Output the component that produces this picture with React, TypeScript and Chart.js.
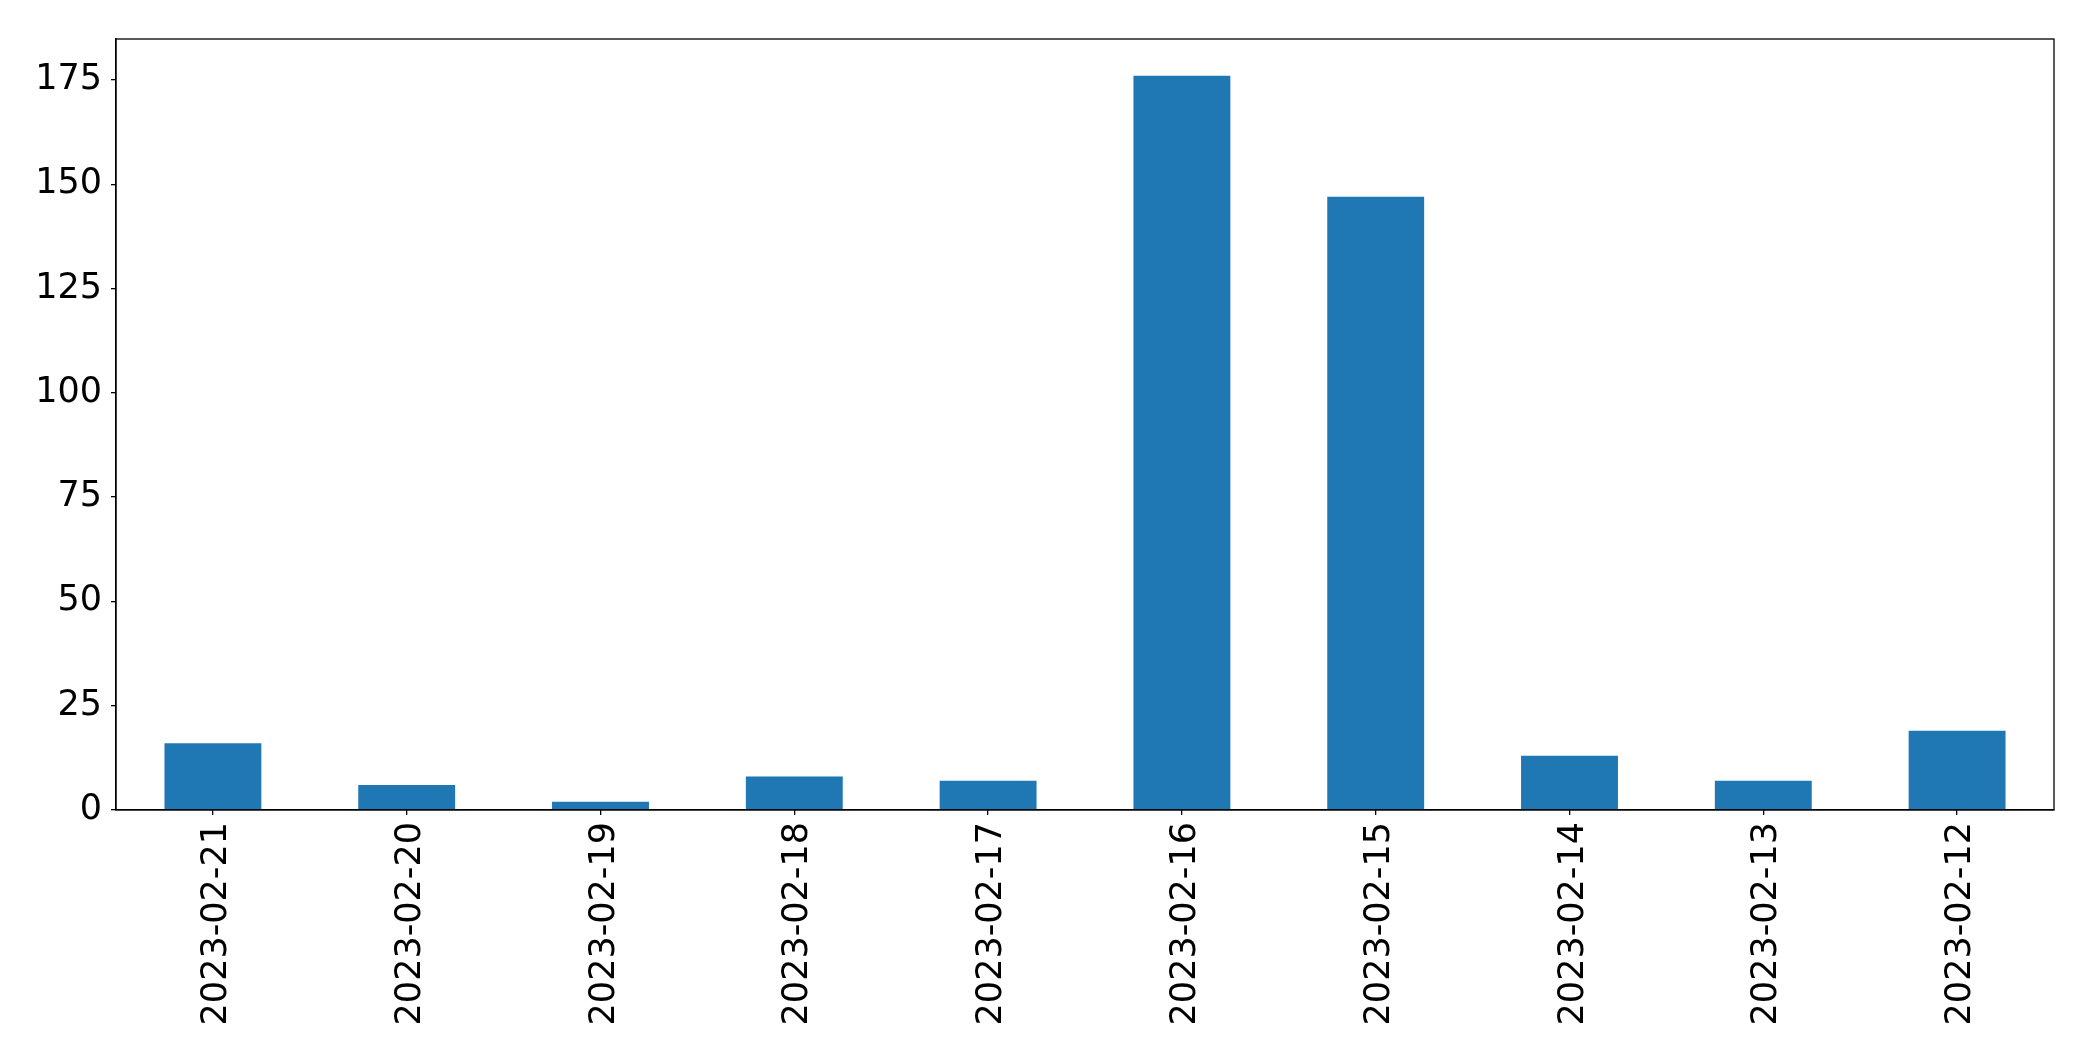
import React, { useEffect, useRef } from "react";
import { Chart, registerables } from "chart.js";

Chart.register(...registerables);

const categories = [
  "2023-02-21",
  "2023-02-20",
  "2023-02-19",
  "2023-02-18",
  "2023-02-17",
  "2023-02-16",
  "2023-02-15",
  "2023-02-14",
  "2023-02-13",
  "2023-02-12",
];
const counts = [16, 6, 2, 8, 7, 176, 147, 13, 7, 19];
const yTickStep = 25;

const W = 2093;
const H = 1061;
const PLOT_LEFT = 116;
const PLOT_TOP = 39;
const PLOT_RIGHT = 2054;
const PLOT_BOTTOM = 810;

const frame = {
  id: "frame",
  afterDatasetsDraw(chart: any) {
    const { ctx, chartArea } = chart;
    ctx.save();
    ctx.strokeStyle = "#000";
    ctx.lineWidth = 1.3;
    ctx.strokeRect(
      chartArea.left,
      chartArea.top,
      chartArea.right - chartArea.left,
      chartArea.bottom - chartArea.top
    );
    ctx.restore();
  },
};

export default function App() {
  const ref = useRef<HTMLCanvasElement | null>(null);
  useEffect(() => {
    if (!ref.current) return;
    const maxV = Math.max(...counts) * 1.05;
    const font = { family: "DejaVu Sans", size: 35 };
    const chart = new Chart(ref.current, {
      type: "bar",
      data: {
        labels: categories,
        datasets: [
          {
            data: counts,
            backgroundColor: "#1f77b4",
            borderWidth: 0,
            barPercentage: 0.5,
            categoryPercentage: 1,
          },
        ],
      },
      options: {
        animation: false,
        responsive: false,
        maintainAspectRatio: false,
        devicePixelRatio: 1,
        layout: { padding: { top: PLOT_TOP, right: W - PLOT_RIGHT, left: 0, bottom: 0 } },
        plugins: { legend: { display: false }, tooltip: { enabled: false } },
        scales: {
          x: {
            offset: true,
            grid: { display: true, drawOnChartArea: false, drawTicks: true, tickLength: 5, color: "#000", lineWidth: 1.3, offset: false },
            border: { display: true, color: "#000", width: 1.3 },
            ticks: { color: "#000", font, minRotation: 90, maxRotation: 90, padding: 7, autoSkip: false, labelOffset: 4 },
            afterFit(scale: any) {
              scale.height = H - PLOT_BOTTOM;
            },
          },
          y: {
            min: 0,
            max: maxV,
            grid: { display: true, drawOnChartArea: false, drawTicks: true, tickLength: 5, color: "#000", lineWidth: 1.3 },
            border: { display: true, color: "#000", width: 1.3 },
            ticks: { color: "#000", font, stepSize: yTickStep, includeBounds: false, padding: 9 },
            afterFit(scale: any) {
              scale.width = PLOT_LEFT;
            },
          },
        },
      },
      plugins: [frame],
    } as any);
    return () => chart.destroy();
  }, []);
  return (
    <div style={{ position: "fixed", left: 0, top: 0, width: W, height: H, background: "#fff" }}>
      <canvas ref={ref} width={W} height={H} style={{ width: W, height: H }} />
    </div>
  );
}
